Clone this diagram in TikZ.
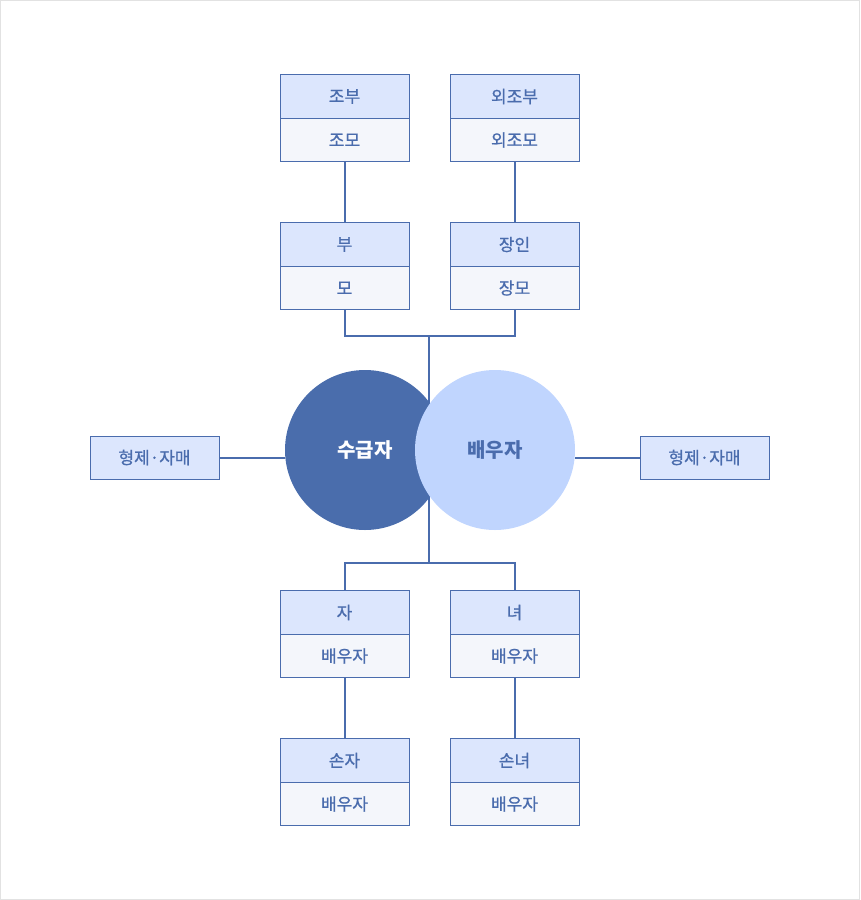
\documentclass[tikz,border=0pt]{standalone}
\usepackage{fontspec}
\newfontfamily\kr{Noto Sans CJK KR}
\newfontfamily\krm[FakeBold=0.8]{Noto Sans CJK KR}
\definecolor{edge}{HTML}{4A6CAD}
\definecolor{topfill}{HTML}{DCE6FD}
\definecolor{botfill}{HTML}{F4F6FB}
\definecolor{darkc}{HTML}{4A6DAC}
\definecolor{lightc}{HTML}{C0D5FE}
\definecolor{frame}{HTML}{E2E2E2}
\tikzset{
  cellt/.style={draw=edge, fill=topfill, line width=1pt, minimum width=129pt, minimum height=44pt, inner sep=0pt, font=\krm\fontsize{17}{17}\selectfont, text=edge, anchor=north},
  cellb/.style={draw=edge, fill=botfill, line width=1pt, minimum width=129pt, minimum height=43pt, inner sep=0pt, font=\krm\fontsize{17}{17}\selectfont, text=edge, anchor=north},
  side/.style={draw=edge, fill=topfill, line width=1pt, minimum width=129pt, minimum height=43pt, inner sep=0pt, font=\krm\fontsize{17}{17}\selectfont, text=edge},
  conn/.style={draw=edge, line width=2pt},
  person/.style={circle, minimum size=160pt, inner sep=0pt, font=\kr\bfseries\fontsize{20}{20}\selectfont}
}
\begin{document}
\begin{tikzpicture}[x=1pt,y=-1pt]
\useasboundingbox (0,0) rectangle (860,900);
\draw[frame, line width=1pt] (0.5,0.5) rectangle (859.5,899.5);
% coordinates
\coordinate (top) at (429,336);
\coordinate (bot) at (429,563);
% connectors (under shapes)
\draw[conn] (top) -- (bot);
% top row
\node[cellt] (gf) at (344.5,74) {조부};
\node[cellb] (gm) at (344.5,118) {조모};
\node[cellt] (mgf) at (514.5,74) {외조부};
\node[cellb] (mgm) at (514.5,118) {외조모};
% second row
\node[cellt] (f) at (344.5,222) {부};
\node[cellb] (m) at (344.5,266) {모};
\node[cellt] (fil) at (514.5,222) {장인};
\node[cellb] (mil) at (514.5,266) {장모};
% third row
\node[cellt] (son) at (344.5,590) {자};
\node[cellb] (sonsp) at (344.5,634) {배우자};
\node[cellt] (dau) at (514.5,590) {녀};
\node[cellb] (dausp) at (514.5,634) {배우자};
% fourth row
\node[cellt] (gson) at (344.5,738) {손자};
\node[cellb] (gsonsp) at (344.5,782) {배우자};
\node[cellt] (gdau) at (514.5,738) {손녀};
\node[cellb] (gdausp) at (514.5,782) {배우자};
% side
\node[side] (sibl) at (154.5,457.5) {형제·자매};
\node[side] (sibr) at (704.5,457.5) {형제·자매};
% circles
\node[person, fill=darkc, text=white] (me) at (365,450) {수급자};
\node[person, fill=lightc, text=edge] (sp) at (495,450) {배우자};
% connectors
\draw[conn] (gm.south) -- (f.north);
\draw[conn] (mgm.south) -- (fil.north);
\draw[conn] (m.south) |- (top) -| (mil.south);
\draw[conn] (son.north) |- (bot) -| (dau.north);
\draw[conn] (sonsp.south) -- (gson.north);
\draw[conn] (dausp.south) -- (gdau.north);
\draw[conn] (sibl.east) -- (sibl.east -| me.west);
\draw[conn] (sibr.west) -- (sibr.west -| sp.east);
\end{tikzpicture}
\end{document}
